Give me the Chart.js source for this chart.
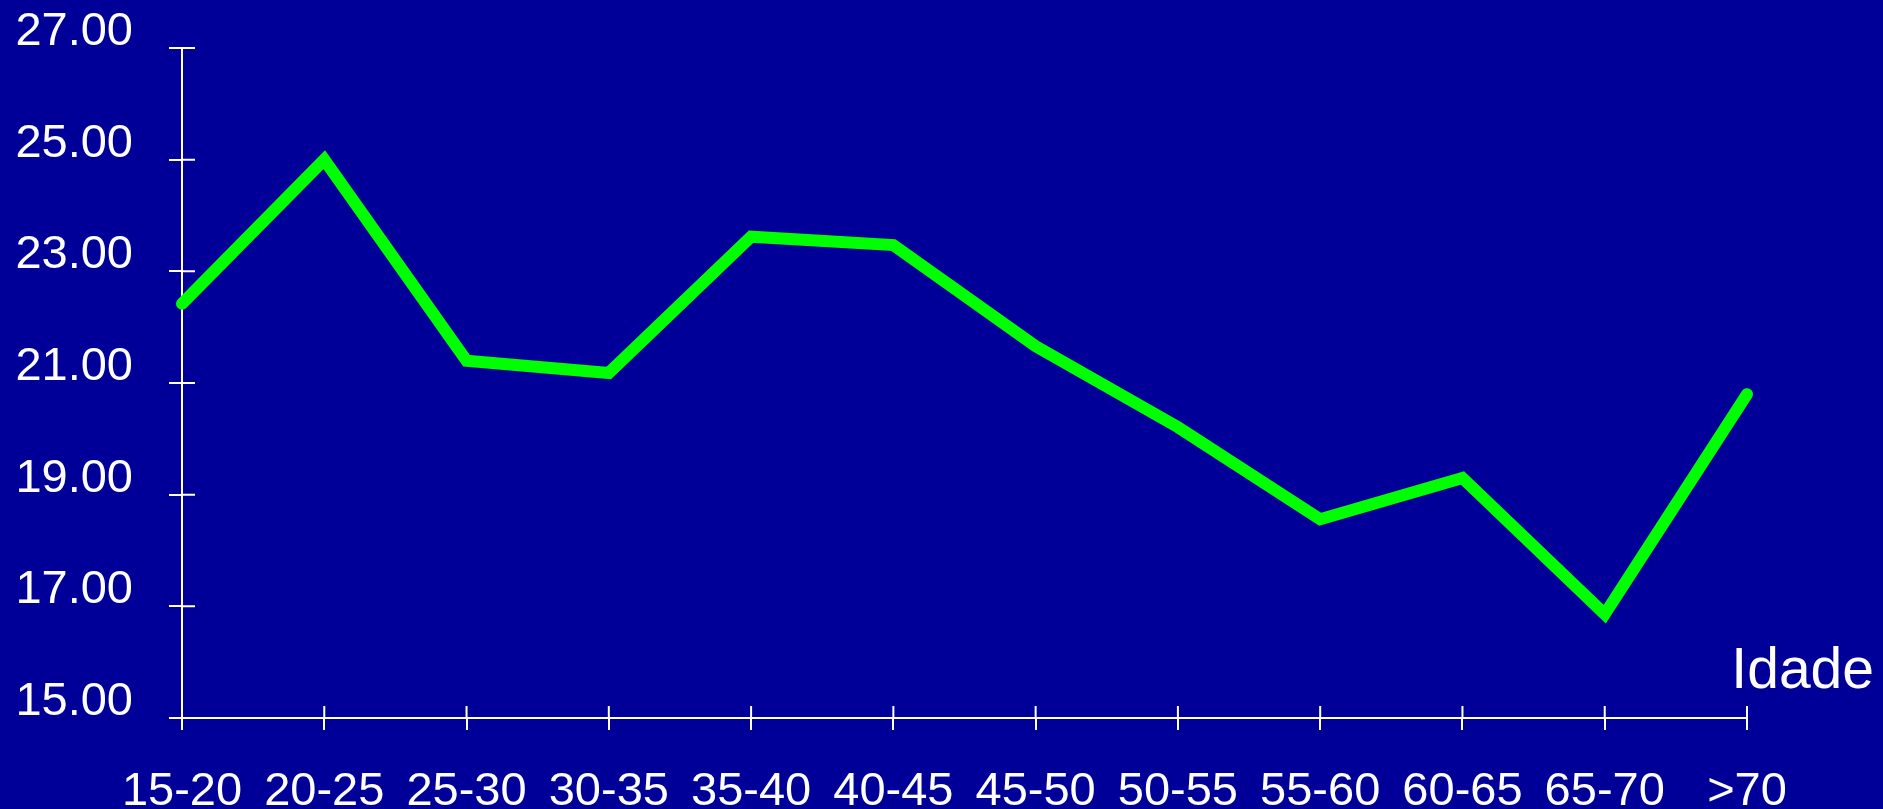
<!DOCTYPE html>
<html>
<head>
<meta charset="utf-8">
<script src="https://cdn.jsdelivr.net/npm/chart.js@4.4.1/dist/chart.umd.min.js"></script>
<style>
  html, body { margin: 0; padding: 0; background: #000099; }
  #wrap { width: 1883px; height: 809px; position: relative; }
</style>
</head>
<body>
<div id="wrap"><canvas id="chart"></canvas></div>
<script>
// age groups and the value per group
const ageGroups = ['15-20', '20-25', '25-30', '30-35', '35-40', '40-45', '45-50', '50-55', '55-60', '60-65', '65-70', '>70'];
const values = [22.42, 25.0, 21.4, 21.18, 23.62, 23.47, 21.66, 20.21, 18.56, 19.3, 16.86, 20.8];
const yMin = 15, yMax = 27, yStep = 2;
const axisTitle = 'Idade';

const FONT = '"Liberation Sans", Arial, sans-serif';
const WHITE = '#ffffff';

// ticks in the original cross the axis, Chart.js only draws the outer half
const crossTicks = {
  id: 'crossTicks',
  afterDraw(chart) {
    const { ctx, chartArea: a, scales: { x, y } } = chart;
    ctx.save();
    ctx.strokeStyle = WHITE;
    ctx.lineWidth = 2;
    ctx.beginPath();
    x.ticks.forEach((t, i) => { const px = x.getPixelForTick(i); ctx.moveTo(px, a.bottom); ctx.lineTo(px, a.bottom - 12); });
    y.ticks.forEach((t, i) => { const py = y.getPixelForTick(i); ctx.moveTo(a.left, py); ctx.lineTo(a.left + 13, py); });
    ctx.stroke();
    // axis title sits above the right end of the x axis
    ctx.fillStyle = WHITE;
    ctx.font = '57px ' + FONT;
    ctx.textAlign = 'right';
    ctx.textBaseline = 'alphabetic';
    ctx.fillText(axisTitle, chart.width - 9, a.bottom - 30);
    ctx.restore();
  },
};

new Chart(document.getElementById('chart'), {
  type: 'line',
  data: {
    labels: ageGroups,
    datasets: [{
      data: values,
      borderColor: '#00ff00',
      borderWidth: 12,
      borderCapStyle: 'round',
      borderJoinStyle: 'miter',
      pointRadius: 0,
      tension: 0,
      clip: false,
    }],
  },
  options: {
    responsive: true,
    maintainAspectRatio: false,
    animation: false,
    layout: { padding: { top: 48, right: 136, left: 0, bottom: 0 } },
    plugins: { legend: { display: false }, tooltip: { enabled: false } },
    scales: {
      x: {
        offset: false,
        grid: { drawOnChartArea: false, color: WHITE, lineWidth: 2, tickLength: 12 },
        border: { color: WHITE, width: 2 },
        ticks: { color: WHITE, font: { family: FONT, size: 47 }, padding: 34, maxRotation: 0, autoSkip: false },
        afterFit(scale) { scale.height = 91; scale.paddingLeft = 0; scale.paddingRight = 0; },
      },
      y: {
        min: yMin,
        max: yMax,
        grid: { drawOnChartArea: false, color: WHITE, lineWidth: 2, tickLength: 13 },
        border: { color: WHITE, width: 2 },
        ticks: {
          stepSize: yStep,
          color: WHITE,
          font: { family: FONT, size: 47 },
          padding: 36,
          labelOffset: -16,
          callback: (v) => Number(v).toFixed(2),
        },
        afterFit(scale) { scale.width = 182; scale.paddingTop = 0; scale.paddingBottom = 0; },
      },
    },
  },
  plugins: [crossTicks],
});
</script>
</body>
</html>
